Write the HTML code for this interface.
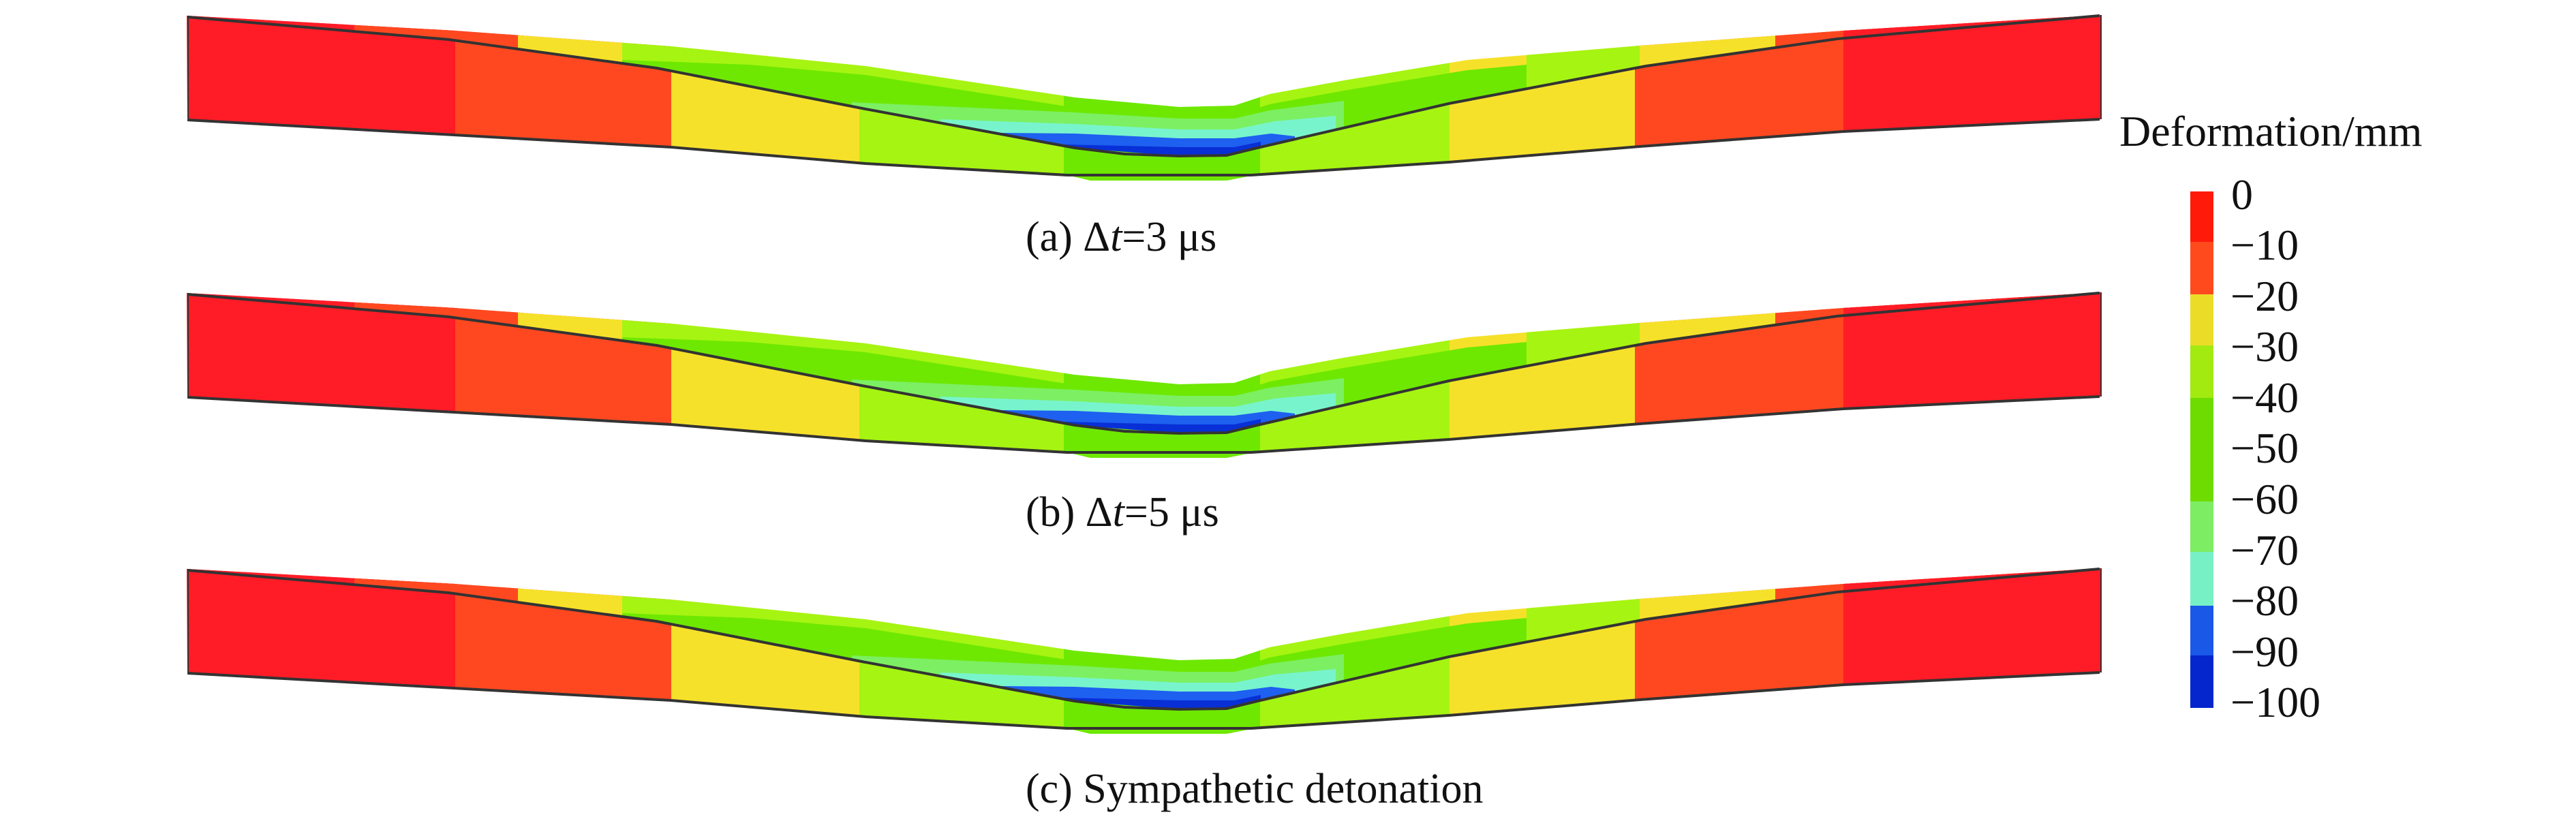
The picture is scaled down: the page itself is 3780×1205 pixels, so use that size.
<!DOCTYPE html>
<html><head><meta charset="utf-8"><style>
html,body{margin:0;padding:0;background:#fff;}
svg{display:block;}
text{font-family:"Liberation Serif",serif;fill:#111;}
</style></head><body>
<svg width="3780" height="1205" viewBox="0 0 3780 1205" xmlns="http://www.w3.org/2000/svg">
<defs>
<clipPath id="pc"><polygon points="274,23 668,45 985,68 1270,97 1577,143 1730,157 1811,155 1863,138 1972,118 2153,88 2406,67 2705,45 3084,22 3084,175 2705,193 2406,215 2126,238 1836,258 1800,265 1600,265 1566,257 1270,240 985,216 275,176"/></clipPath>
<clipPath id="uc"><polygon points="274,23 668,45 985,68 1270,97 1577,143 1730,157 1811,155 1863,138 1972,118 2153,88 2406,67 2705,45 3084,22 3081,23 2696,57 2415,97 2126,152 1845,217 1800,228 1730,229 1577,217 1270,160 964,100 658,58 275,25"/></clipPath>
<g id="plate">
 <g clip-path="url(#pc)">
  <rect x="270" y="0" width="400" height="300" fill="#ff1c26"/>
  <rect x="668" y="0" width="318" height="300" fill="#ff4820"/>
  <rect x="985" y="0" width="277" height="300" fill="#f6e12a"/>
  <rect x="1261" y="0" width="302" height="300" fill="#a6f412"/>
  <rect x="1561" y="0" width="289" height="300" fill="#6ee800"/>
  <rect x="1849" y="0" width="279" height="300" fill="#a6f412"/>
  <rect x="2127" y="0" width="273" height="300" fill="#f6e12a"/>
  <rect x="2399" y="0" width="307" height="300" fill="#ff4820"/>
  <rect x="2705" y="0" width="385" height="300" fill="#ff1c26"/>
 </g>
 <g clip-path="url(#uc)">
  <rect x="270" y="0" width="400" height="300" fill="#ff1c26"/>
  <polygon points="520,30 668,45 760,52 760,80 520,80" fill="#ff4820"/>
  <rect x="668" y="50" width="100" height="250" fill="#ff4820"/>
  <rect x="760" y="0" width="155" height="300" fill="#f6e12a"/>
  <rect x="913" y="0" width="400" height="300" fill="#a6f412"/>
  <polygon points="913,88 1100,95 1270,110 1577,158 1730,172 1811,170 1863,153 1972,133 2153,103 2240,95 2240,300 913,300" fill="#6ee800"/>
  <rect x="2240" y="0" width="170" height="300" fill="#a6f412"/>
  <rect x="2406" y="0" width="200" height="300" fill="#f6e12a"/>
  <rect x="2605" y="0" width="480" height="300" fill="#ff4820"/>
  <polygon points="2705,30 3084,15 3084,40 2705,60" fill="#ff1c26"/>
  <polygon points="1250,150 1577,165 1730,174 1811,174 1863,162 1972,148 1972,300 1250,300" fill="#7cf062"/>
  <polygon points="1380,175 1577,182 1730,190 1811,190 1870,178 1960,170 1960,300 1380,300" fill="#78f4cc"/>
  <polygon points="1470,195 1577,196 1730,203 1811,203 1865,196 1900,200 1900,300 1470,300" fill="#1e60f0"/>
  <polygon points="1560,212 1730,216 1811,216 1850,208 1850,300 1560,300" fill="#0830d6"/>
 </g>
 <polyline points="275,25 658,58 964,100 1270,160 1577,217 1650,226 1730,229 1800,228 1845,217 2126,152 2415,97 2696,57 3081,23" fill="none" stroke="#333" stroke-width="4"/>
 <polyline points="275,176 985,216 1270,240 1566,257 1836,257 2126,238 2406,215 2705,193 3081,175" fill="none" stroke="#333" stroke-width="4"/>
 <line x1="276" y1="23" x2="276" y2="177" stroke="#333" stroke-width="2"/>
 <line x1="3083" y1="22" x2="3083" y2="175" stroke="#333" stroke-width="2"/>
</g>
</defs>
<use href="#plate"/>
<use href="#plate" transform="translate(0,407)"/>
<use href="#plate" transform="translate(0,812)"/>
<text x="1505" y="368" font-size="62">(a) Δ<tspan font-style="italic">t</tspan>=3 μs</text>
<text x="1505" y="772" font-size="62">(b) Δ<tspan font-style="italic">t</tspan>=5 μs</text>
<text x="1505" y="1178" font-size="62">(c) Sympathetic detonation</text>
<text x="3110" y="214" font-size="64">Deformation/mm</text>
<rect x="3214" y="281" width="34" height="74" fill="#ff1a0a"/>
<rect x="3214" y="355" width="34" height="77" fill="#ff4a1e"/>
<rect x="3214" y="432" width="34" height="75" fill="#ebdc28"/>
<rect x="3214" y="507" width="34" height="77" fill="#a2ea10"/>
<rect x="3214" y="584" width="34" height="152" fill="#6edc00"/>
<rect x="3214" y="736" width="34" height="74" fill="#7ded64"/>
<rect x="3214" y="810" width="34" height="79" fill="#78f0c6"/>
<rect x="3214" y="889" width="34" height="73" fill="#1a58e8"/>
<rect x="3214" y="962" width="34" height="77" fill="#0526cc"/>
<g font-size="64">
<text x="3274" y="307">0</text>
<text x="3273" y="381">−10</text>
<text x="3273" y="456">−20</text>
<text x="3273" y="530">−30</text>
<text x="3273" y="605">−40</text>
<text x="3273" y="679">−50</text>
<text x="3273" y="754">−60</text>
<text x="3273" y="829">−70</text>
<text x="3273" y="903">−80</text>
<text x="3273" y="978">−90</text>
<text x="3273" y="1052">−100</text>
</g>
</svg>
</body></html>
